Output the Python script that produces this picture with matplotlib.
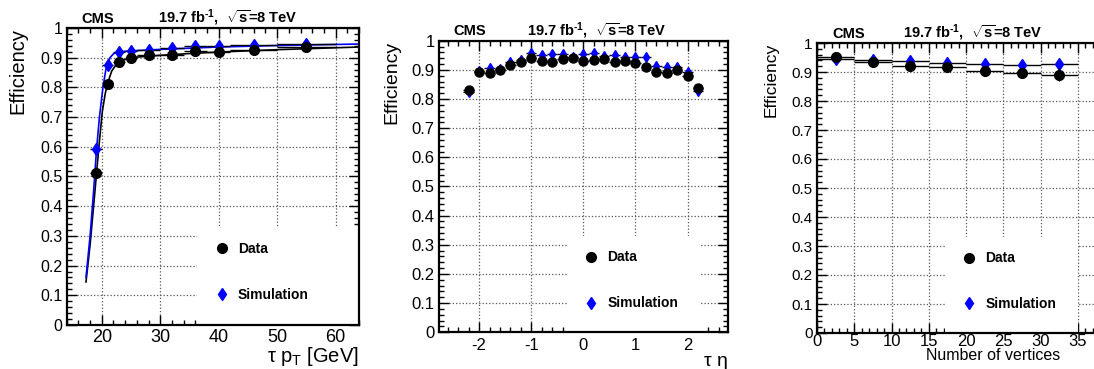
import matplotlib
matplotlib.use("Agg")
import matplotlib.pyplot as plt
from matplotlib.patches import Rectangle
from matplotlib.lines import Line2D
from matplotlib.ticker import MultipleLocator, FuncFormatter, FixedLocator

plt.rcParams['font.family'] = ['Liberation Sans', 'DejaVu Sans']
plt.rcParams['mathtext.fontset'] = 'custom'
plt.rcParams['mathtext.rm'] = 'Liberation Sans'
plt.rcParams['mathtext.bf'] = 'Liberation Sans:bold'
plt.rcParams['mathtext.it'] = 'Liberation Sans:italic'
plt.rcParams['axes.unicode_minus'] = False

# ---- panel 1: tau pT
pt_x = [19, 21, 23, 25, 28, 32, 36, 40, 46, 55]
pt_xerr = [1, 1, 1, 1, 2, 2, 2, 2, 4, 5]
pt_data = [0.511, 0.811, 0.886, 0.899, 0.908, 0.910, 0.921, 0.919, 0.927, 0.935]
pt_data_err = [0.006, 0.005, 0.004, 0.004, 0.003, 0.003, 0.004, 0.004, 0.004, 0.005]
pt_sim = [0.593, 0.876, 0.919, 0.921, 0.927, 0.931, 0.940, 0.938, 0.944, 0.946]
pt_sim_err = [0.005, 0.004, 0.003, 0.003, 0.003, 0.003, 0.003, 0.003, 0.003, 0.004]

fit_data_x = [17.3, 18.0, 18.6, 19.1, 19.6, 20.1, 20.6, 21.1, 21.7, 22.4, 23.2, 24.5, 26, 30, 35, 40, 50, 64]
fit_data_y = [0.145, 0.27, 0.40, 0.51, 0.62, 0.72, 0.78, 0.82, 0.855, 0.875, 0.888, 0.897, 0.902, 0.908, 0.914, 0.919, 0.927, 0.936]
fit_sim_x = [17.3, 18.0, 18.6, 19.1, 19.6, 20.2, 20.7, 21.4, 22.0, 22.8, 25, 30, 40, 50, 64]
fit_sim_y = [0.16, 0.30, 0.45, 0.59, 0.70, 0.80, 0.86, 0.90, 0.913, 0.92, 0.923, 0.928, 0.936, 0.941, 0.946]

# ---- panel 2: tau eta
eta_x = [-2.2, -2.0, -1.8, -1.6, -1.4, -1.2, -1.0, -0.8, -0.6, -0.4, -0.2, 0.0,
         0.2, 0.4, 0.6, 0.8, 1.0, 1.2, 1.4, 1.6, 1.8, 2.0, 2.2]
eta_data = [0.831, 0.893, 0.888, 0.899, 0.915, 0.927, 0.942, 0.931, 0.927, 0.936, 0.939, 0.929,
            0.934, 0.937, 0.928, 0.930, 0.925, 0.911, 0.894, 0.888, 0.898, 0.879, 0.837]
eta_sim = [0.825, 0.896, 0.905, 0.902, 0.926, 0.934, 0.957, 0.950, 0.955, 0.953, 0.943, 0.953,
           0.959, 0.947, 0.951, 0.945, 0.945, 0.945, 0.913, 0.911, 0.911, 0.893, 0.829]

# ---- panel 3: number of vertices
nv_x = [2.5, 7.5, 12.5, 17.5, 22.5, 27.5, 32.5]
nv_data = [0.952, 0.933, 0.919, 0.917, 0.903, 0.896, 0.891]
nv_data_err = [0.005, 0.004, 0.004, 0.005, 0.006, 0.009, 0.023]
nv_sim = [0.944, 0.940, 0.937, 0.932, 0.929, 0.925, 0.926]
nv_sim_err = [0.004, 0.003, 0.003, 0.003, 0.003, 0.004, 0.006]
nv_ticks = [0, 5, 10, 15, 20, 25, 30, 35]

W, H = 1094, 369
fig = plt.figure(figsize=(W / 100, H / 100), dpi=100)


def px_axes(left, top, right, bottom):
    return fig.add_axes([left / W, 1 - bottom / H, (right - left) / W, (bottom - top) / H])


def style(ax, xmaj, xmin, ylsize, xlsize, xpad=4):
    ax.set_ylim(0, 1)
    ax.yaxis.set_major_locator(MultipleLocator(0.1))
    ax.yaxis.set_minor_locator(MultipleLocator(0.02))
    ax.xaxis.set_major_locator(MultipleLocator(xmaj))
    ax.xaxis.set_minor_locator(MultipleLocator(xmin))
    ax.tick_params(which='both', direction='in', top=True, right=True, width=1)
    ax.tick_params(which='major', length=7)
    ax.tick_params(which='minor', length=3.5)
    ax.tick_params(axis='y', labelsize=ylsize, pad=3)
    ax.tick_params(axis='x', labelsize=xlsize, pad=xpad)
    for s in ax.spines.values():
        s.set_linewidth(1.6)
    ax.set_axisbelow(True)
    ax.grid(True, which='major', linestyle=':', color='#555555', linewidth=0.9)
    ax.yaxis.set_major_formatter(FuncFormatter(
        lambda v, p: '0' if abs(v) < 1e-9 else ('1' if abs(v - 1) < 1e-9 else '%.1f' % v)))


def header(ax, lumi_right, size):
    ax.text(0.05, 1.018, 'CMS', transform=ax.transAxes, fontsize=size,
            fontweight='bold', ha='left', va='baseline')
    ax.text(lumi_right, 1.018, '19.7 fb$^{\\mathbf{\u2010 1}}$,  $\\mathbf{\\sqrt{s}}$=8 TeV',
            transform=ax.transAxes, fontsize=size, fontweight='bold', ha='right', va='baseline')


def legend_box(ax, x0, x1, hx, size):
    ax.add_patch(Rectangle((x0, 0.004), x1 - x0, 0.326, transform=ax.transAxes,
                           facecolor='white', edgecolor='none', zorder=1))
    handles = [Line2D([], [], marker='o', color='black', linestyle='none', markersize=7),
               Line2D([], [], marker='d', color='blue', linestyle='none', markersize=6)]
    leg = ax.legend(handles, ['Data', 'Simulation'], loc='center left',
                    bbox_to_anchor=(hx, 0.178), frameon=False, borderpad=0,
                    handlelength=1.0, handletextpad=0.65, labelspacing=2.3,
                    prop={'weight': 'bold', 'size': size})
    leg.set_zorder(5)


def points(ax, x, xerr, yd, yde, ys, yse, msd=7, mss=6):
    ax.errorbar(x, ys, xerr=xerr, yerr=yse, fmt='d', color='blue', ecolor='black',
                elinewidth=1, capsize=0, markersize=mss, zorder=3)
    ax.errorbar(x, yd, xerr=xerr, yerr=yde, fmt='o', color='black', ecolor='black',
                elinewidth=1, capsize=0, markersize=msd, zorder=4)


# panel 1
ax1 = px_axes(66.7, 28, 359, 325)
style(ax1, 10, 2, 11.5, 13, xpad=3)
ax1.set_xlim(14, 64)
ax1.plot(fit_data_x, fit_data_y, color='black', linewidth=1.2, zorder=2)
ax1.plot(fit_sim_x, fit_sim_y, color='blue', linewidth=1.2, zorder=2)
points(ax1, pt_x, pt_xerr, pt_data, pt_data_err, pt_sim, pt_sim_err)
header(ax1, 0.79, 10.5)
legend_box(ax1, 0.445, 1.0, 0.484, 10)
ax1.set_ylabel('Efficiency', fontsize=14.5, loc='top')
ax1.yaxis.set_label_coords(-0.133, 1.0)
ax1.set_xlabel(r'τ p$_{\mathregular{T}}$ [GeV]', fontsize=14.5, loc='right')
ax1.xaxis.set_label_coords(1.0, -0.068)

# panel 2
ax2 = px_axes(439, 40.7, 727.7, 332.3)
style(ax2, 1, 0.2, 12, 12)
ax2.set_xlim(-2.77, 2.77)
points(ax2, eta_x, 0.1, eta_data, 0.005, eta_sim, 0.004, msd=6.5, mss=5.5)
header(ax2, 0.789, 10.5)
legend_box(ax2, 0.446, 0.907, 0.479, 10)
ax2.set_ylabel('Efficiency', fontsize=14, loc='top')
ax2.yaxis.set_label_coords(-0.135, 1.0)
ax2.set_xlabel('τ η', fontsize=14, loc='right')
ax2.xaxis.set_label_coords(1.0, -0.072)

# panel 3
ax3 = px_axes(817, 43, 1115, 333)
style(ax3, 5, 1, 11, 12, xpad=1)
ax3.set_xlim(0, 40)
ax3.xaxis.set_major_locator(FixedLocator(nv_ticks))
points(ax3, nv_x, 2.5, nv_data, nv_data_err, nv_sim, nv_sim_err)
header(ax3, 0.758, 10.5)
legend_box(ax3, 0.43, 0.875, 0.464, 10)
ax3.set_ylabel('Efficiency', fontsize=12.5, loc='top')
ax3.yaxis.set_label_coords(-0.13, 1.0)
ax3.set_xlabel('Number of vertices', fontsize=11.5, loc='right')
ax3.xaxis.set_label_coords(0.815, -0.05)

fig.savefig('out.png', dpi=100)
